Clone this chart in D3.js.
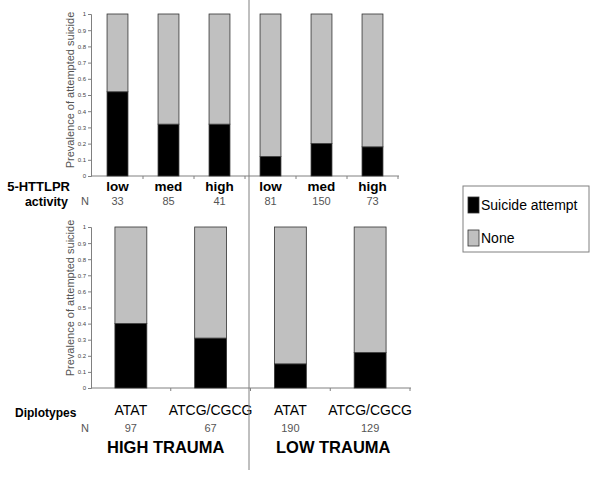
<!DOCTYPE html>
<html>
<head>
<meta charset="utf-8">
<script src="https://cdn.jsdelivr.net/npm/d3@7"></script>
<style>
  body { margin: 0; background: #fff; }
  svg { display: block; font-family: Arial, "Liberation Sans", sans-serif; }
</style>
</head>
<body>
<svg id="chart"></svg>
<script>
// data
const activity = ["low", "med", "high", "low", "med", "high"];
const activityN = [33, 85, 41, 81, 150, 73];
const activityAttempt = [0.52, 0.32, 0.32, 0.12, 0.2, 0.18];

const diplotypes = ["ATAT", "ATCG/CGCG", "ATAT", "ATCG/CGCG"];
const diplotypeN = [97, 67, 190, 129];
const diplotypeAttempt = [0.4, 0.31, 0.15, 0.22];

const traumaLabels = ["HIGH TRAUMA", "LOW TRAUMA"];
const legendLabels = ["Suicide attempt", "None"];
const yTicks = [0, 0.1, 0.2, 0.3, 0.4, 0.5, 0.6, 0.7, 0.8, 0.9, 1];

const width = 600,
  height = 481;
const colors = ["#000000", "#c0c0c0"];
const axisColor = "#808080";

let svg = d3.select("#chart").attr("width", width).attr("height", height);

function panel(opts) {
  let g = svg.append("g");
  let idx = d3.range(opts.attempt.length);

  let xScale = d3
    .scaleBand()
    .domain(idx)
    .range(opts.xRange)
    .paddingInner(opts.pad)
    .paddingOuter(opts.pad / 2);

  let yScale = d3.scaleLinear().domain([0, 1]).range(opts.yRange);

  let rows = idx.map((i) => ({ i: i, attempt: opts.attempt[i], none: 1 - opts.attempt[i] }));
  let series = d3.stack().keys(["attempt", "none"])(rows);

  // y axis
  let yAxis = g
    .append("g")
    .attr("transform", `translate(${opts.xAxisStart}, 0)`)
    .call(d3.axisLeft(yScale).tickValues(yTicks).tickFormat((d) => String(d)).tickSize(3).tickPadding(2));
  yAxis.select(".domain").attr("stroke", axisColor);
  yAxis.selectAll(".tick line").attr("stroke", axisColor);
  yAxis.selectAll(".tick text").attr("font-size", "6px").attr("fill", "#444").attr("font-family", "Arial, 'Liberation Sans', sans-serif");

  // x axis line + ticks between categories
  let step = xScale.step();
  let bounds = idx.map((i) => xScale(i) + xScale.bandwidth() + (step - xScale.bandwidth()) / 2);
  g.append("line")
    .attr("x1", opts.xAxisStart)
    .attr("x2", opts.xRange[1] + 1)
    .attr("y1", yScale(0))
    .attr("y2", yScale(0))
    .attr("stroke", axisColor);
  g.selectAll(".xtick")
    .data(bounds)
    .enter()
    .append("line")
    .attr("class", "xtick")
    .attr("x1", (d) => d)
    .attr("x2", (d) => d)
    .attr("y1", yScale(0))
    .attr("y2", yScale(0) + 3)
    .attr("stroke", axisColor);

  // bars
  g.selectAll(".layer")
    .data(series)
    .enter()
    .append("g")
    .attr("fill", (d, k) => colors[k])
    .selectAll("rect")
    .data((d) => d)
    .enter()
    .append("rect")
    .attr("x", (d) => xScale(d.data.i))
    .attr("y", (d) => yScale(d[1]))
    .attr("width", xScale.bandwidth())
    .attr("height", (d) => yScale(d[0]) - yScale(d[1]))
    .attr("stroke", "#333")
    .attr("stroke-width", 0.8);

  // y label
  g.append("text")
    .attr("transform", `translate(74, ${opts.labelY}) rotate(-90)`)
    .attr("text-anchor", "middle")
    .attr("font-size", "11px")
    .attr("fill", "#555")
    .text("Prevalence of attempted suicide");

  // category labels
  g.selectAll(".cat")
    .data(idx)
    .enter()
    .append("text")
    .attr("class", "cat")
    .attr("x", (i) => xScale(i) + xScale.bandwidth() / 2)
    .attr("y", opts.catY)
    .attr("text-anchor", "middle")
    .attr("font-size", opts.catSize)
    .attr("font-weight", opts.catWeight)
    .attr("fill", "#000")
    .text((i) => opts.cats[i]);

  // N row
  g.append("text")
    .attr("x", 81)
    .attr("y", opts.nY)
    .attr("font-size", "11px")
    .attr("fill", "#555")
    .text("N");
  g.selectAll(".nval")
    .data(idx)
    .enter()
    .append("text")
    .attr("class", "nval")
    .attr("x", (i) => xScale(i) + xScale.bandwidth() / 2)
    .attr("y", opts.nY)
    .attr("text-anchor", "middle")
    .attr("font-size", "11px")
    .attr("fill", "#555")
    .text((i) => opts.n[i]);

  return xScale;
}

// top panel: 5-HTTLPR activity
panel({
  attempt: activityAttempt,
  cats: activity,
  n: activityN,
  xRange: [92, 398],
  xAxisStart: 91,
  pad: 0.59,
  yRange: [176, 14],
  labelY: 90,
  catY: 191,
  catSize: "13.5px",
  catWeight: "bold",
  nY: 205,
});

svg.append("text").attr("x", 70).attr("y", 191).attr("text-anchor", "end")
  .attr("font-size", "13px").attr("font-weight", "bold").text("5-HTTLPR");
svg.append("text").attr("x", 68).attr("y", 206).attr("text-anchor", "end")
  .attr("font-size", "12.5px").attr("font-weight", "bold").text("activity");

// bottom panel: diplotypes
let xBottom = panel({
  attempt: diplotypeAttempt,
  cats: diplotypes,
  n: diplotypeN,
  xRange: [91, 410],
  xAxisStart: 91,
  pad: 0.6,
  yRange: [388, 227],
  labelY: 298,
  catY: 415,
  catSize: "14px",
  catWeight: "normal",
  nY: 432,
});

svg.append("text").attr("x", 15).attr("y", 417)
  .attr("font-size", "12px").attr("font-weight", "bold").text("Diplotypes");

// trauma labels under each pair of bars
const traumaShift = [-5, 3];
svg.selectAll(".trauma")
  .data(traumaLabels)
  .enter()
  .append("text")
  .attr("class", "trauma")
  .attr("x", (d, k) => (xBottom(2 * k) + xBottom(2 * k + 1) + xBottom.bandwidth()) / 2 + traumaShift[k])
  .attr("y", 453)
  .attr("text-anchor", "middle")
  .attr("font-size", "16.5px")
  .attr("font-weight", "bold")
  .text((d) => d);

// separator
svg.append("line")
  .attr("x1", 249).attr("x2", 249)
  .attr("y1", 0).attr("y2", 470)
  .attr("stroke", "#808080");

// legend
let legend = svg.append("g").attr("transform", "translate(463, 186)");
legend.append("rect")
  .attr("width", 126).attr("height", 66)
  .attr("fill", "#fff").attr("stroke", "#808080");
let items = legend.selectAll(".item")
  .data(legendLabels)
  .enter()
  .append("g")
  .attr("transform", (d, k) => `translate(5, ${11 + k * 33})`);
items.append("rect")
  .attr("width", 11).attr("height", 16)
  .attr("fill", (d, k) => colors[k])
  .attr("stroke", "#333").attr("stroke-width", 0.8);
items.append("text")
  .attr("x", 13).attr("y", 13)
  .attr("font-size", "14px")
  .text((d) => d);
</script>
</body>
</html>
